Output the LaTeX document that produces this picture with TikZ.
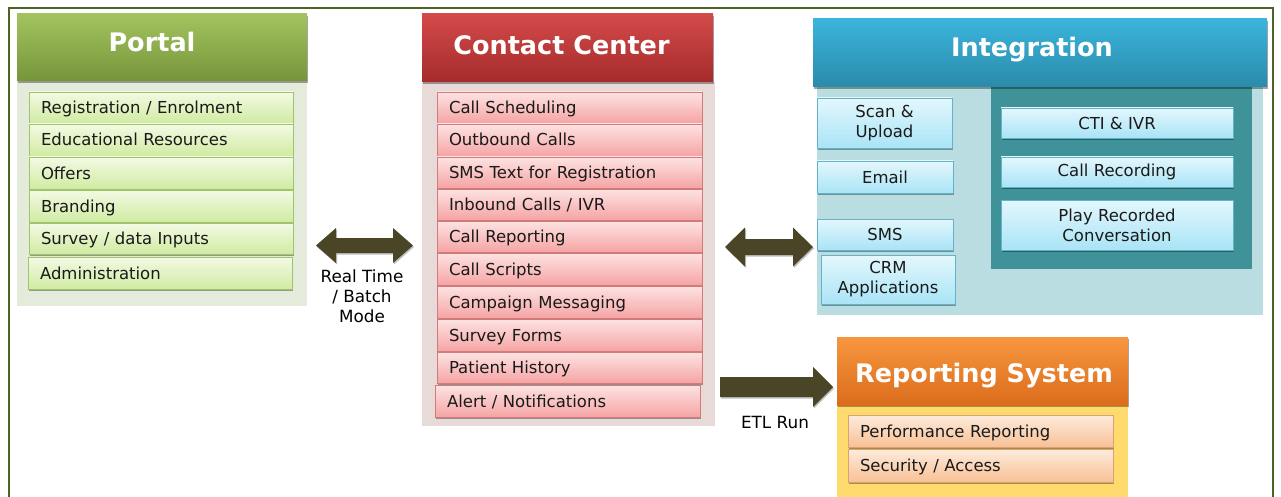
\documentclass[tikz,border=0pt]{standalone}
\usepackage{fontspec}
\setmainfont{DejaVu Sans}
\usetikzlibrary{shadows,calc}

% palette
\definecolor{frameGreen}{HTML}{4F6228}
\definecolor{arrowOlive}{HTML}{4A4527}
\definecolor{portalTop}{HTML}{A3C35F}
\definecolor{portalBot}{HTML}{76953A}
\definecolor{portalBody}{HTML}{E5EBDA}
\definecolor{pItemTop}{HTML}{F3FAE4}
\definecolor{pItemBot}{HTML}{D0EBA2}
\definecolor{pItemLine}{HTML}{9EC46C}
\definecolor{ccTop}{HTML}{D44A4A}
\definecolor{ccBot}{HTML}{A52B2B}
\definecolor{ccBody}{HTML}{E9DADA}
\definecolor{cItemTop}{HTML}{FDE3E3}
\definecolor{cItemBot}{HTML}{F6A4A4}
\definecolor{cItemLine}{HTML}{D37A7A}
\definecolor{intTop}{HTML}{3BB4DC}
\definecolor{intBot}{HTML}{2A8BAA}
\definecolor{intBody}{HTML}{B9DDE1}
\definecolor{intInner}{HTML}{3E9298}
\definecolor{iItemTop}{HTML}{E4F7FD}
\definecolor{iItemBot}{HTML}{A9E4F6}
\definecolor{iItemLine}{HTML}{62B2CA}
\definecolor{repTop}{HTML}{F7963E}
\definecolor{repBot}{HTML}{DB6D1C}
\definecolor{repBody}{HTML}{FEDB6C}
\definecolor{rItemTop}{HTML}{FDEBDC}
\definecolor{rItemBot}{HTML}{F8C196}
\definecolor{rItemLine}{HTML}{DDA070}
\definecolor{itemText}{HTML}{1A1A1A}

\tikzset{
  softshadow/.style={drop shadow={shadow xshift=1.2pt,shadow yshift=-1.8pt,opacity=0.35,fill=black}},
  size/.style 2 args={minimum width=#1,minimum height=#2},
  panel/.style={anchor=north west,inner sep=0pt,outer sep=0pt},
  header/.style={panel,softshadow},
  titletext/.style={anchor=base,text=white,font=\fontsize{25.5}{30}\selectfont\bfseries},
  itembox/.style={anchor=north west,inner sep=0pt,outer sep=0pt,line width=0.6pt,
    text=itemText,font=\fontsize{16.5}{20}\selectfont,softshadow},
  leftitem/.style={itembox,text width=#1,align=left,inner xsep=12pt,
    text height=12pt,text depth=0pt},
  pitem/.style={leftitem=240pt,draw=pItemLine,top color=pItemTop,bottom color=pItemBot},
  citem/.style={leftitem=241pt,draw=cItemLine,top color=cItemTop,bottom color=cItemBot},
  ritem/.style={leftitem=241pt,draw=rItemLine,top color=rItemTop,bottom color=rItemBot},
  iitem/.style={itembox,align=center,draw=iItemLine,top color=iItemTop,bottom color=iItemBot},
  blockarrow/.style={fill=arrowOlive,drop shadow={shadow xshift=1pt,shadow yshift=-1.5pt,opacity=0.25,fill=black}},
  caption/.style={align=center,text=black,font=\fontsize{16.8}{20}\selectfont},
}

\begin{document}
\begin{tikzpicture}[x=1pt,y=-1pt]
\useasboundingbox (0,0) rectangle (1281,497);
\fill[white] (0,0) rectangle (1281,497);

% outer frame (open at the bottom)
\draw[frameGreen,line width=2.5pt] (9,497) -- (9,8) -- (1273,8) -- (1273,497);

% ---------------- Portal ----------------
\node[panel,size={290pt}{225pt},fill=portalBody] (portalBody) at (17,81) {};
\node[header,size={290pt}{67pt},top color=portalTop,bottom color=portalBot] (portalHead) at (17,14) {};
\node[titletext] (portalTitle) at (152,52) {Portal};

\node[pitem,minimum height=31pt] (p1) at (29,92)  {Registration / Enrolment};
\node[pitem,minimum height=32pt] (p2) at (29,124) {Educational Resources};
\node[pitem,minimum height=32pt] (p3) at (29,157) {Offers};
\node[pitem,minimum height=32pt] (p4) at (29,190) {Branding};
\node[pitem,minimum height=31pt] (p5) at (29,223) {Survey / data Inputs};
\node[pitem,minimum height=32pt] (p6) at (28,257) {Administration};

% ---------------- Contact Center ----------------
\node[panel,size={293pt}{344pt},fill=ccBody] (ccBody) at (422,82) {};
\node[header,size={291pt}{68pt},top color=ccTop,bottom color=ccBot] (ccHead) at (422,14) {};
\node[titletext] (ccTitle) at (561.5,55) {Contact Center};

\node[citem,minimum height=31pt] (c1)  at (437,92)  {Call Scheduling};
\node[citem,minimum height=32pt] (c2)  at (437,124) {Outbound Calls};
\node[citem,minimum height=31pt] (c3)  at (437,157) {SMS Text for Registration};
\node[citem,minimum height=31pt] (c4)  at (437,189) {Inbound Calls / IVR};
\node[citem,minimum height=31pt] (c5)  at (437,221) {Call Reporting};
\node[citem,minimum height=32pt] (c6)  at (437,253) {Call Scripts};
\node[citem,minimum height=32pt] (c7)  at (437,286) {Campaign Messaging};
\node[citem,minimum height=32pt] (c8)  at (437,319) {Survey Forms};
\node[citem,minimum height=31pt] (c9)  at (437,352) {Patient History};
\node[citem,minimum height=32pt] (c10) at (435,385) {Alert / Notifications};

% ---------------- Integration ----------------
\node[panel,size={446pt}{228pt},fill=intBody] (intBody) at (817,87) {};
\node[panel,size={261pt}{182pt},fill=intInner] (intInner) at (991,87) {};
\node[header,size={454pt}{68pt},top color=intTop,bottom color=intBot] (intHead) at (813,19) {};
\node[titletext] (intTitle) at (1032,57) {Integration};

\node[iitem,size={135pt}{50pt}] (scan)  at (817,98)  {Scan \&\\Upload};
\node[iitem,size={136pt}{32pt}] (email) at (817,161) {Email};
\node[iitem,size={136pt}{31pt}] (sms)   at (817,219) {SMS};
\node[iitem,size={134pt}{49pt}] (crm)   at (821,255) {CRM\\Applications};

\node[iitem,size={232pt}{30pt}] (cti)  at (1001,108) {CTI \& IVR};
\node[iitem,size={232pt}{30pt}] (rec)  at (1001,157) {Call Recording};
\node[iitem,size={232pt}{50pt}] (play) at (1001,200) {Play Recorded\\Conversation};

% ---------------- Reporting System ----------------
\node[panel,size={291pt}{92pt},fill=repBody] (repBody) at (837,405) {};
\node[header,size={291pt}{68pt},top color=repTop,bottom color=repBot] (repHead) at (837,337) {};
\node[titletext] (repTitle) at (984,382) {Reporting System};

\node[ritem,minimum height=32pt] (r1) at (848,415) {Performance Reporting};
\node[ritem,minimum height=33pt] (r2) at (848,449) {Security / Access};

% ---------------- block arrows ----------------
% Portal <-> Contact Center
\coordinate (lA) at (316,245.5);
\coordinate (lB) at (413,245.5);
\fill[blockarrow] (lA) -- ++(20,-17.5) -- ++(0,10) -- ($(lB)+(-20,-7.5)$)
  -- ++(0,-10) -- (lB) -- ++(-20,17.5) -- ++(0,-10) -- ($(lA)+(20,7.5)$)
  -- ++(0,10) -- cycle;
\node[caption] (rtLabel) at (362,296) {Real Time\\/ Batch\\Mode};

% Contact Center <-> Integration
\coordinate (mA) at (725,247);
\coordinate (mB) at (813,247);
\fill[blockarrow] (mA) -- ++(20,-19.5) -- ++(0,11.5) -- ($(mB)+(-20,-8)$)
  -- ++(0,-11.5) -- (mB) -- ++(-20,19.5) -- ++(0,-11.5) -- ($(mA)+(20,8)$)
  -- ++(0,11.5) -- cycle;

% Contact Center -> Reporting System
\coordinate (eA) at (720,387);
\coordinate (eB) at (833,387);
\fill[blockarrow] ($(eA)+(0,-10)$) -- ($(eB)+(-20,-10)$) -- ++(0,-10) -- (eB)
  -- ++(-20,20) -- ++(0,-10) -- ($(eA)+(0,10)$) -- cycle;
\node[caption] (etlLabel) at (775,422) {ETL Run};
\end{tikzpicture}
\end{document}
